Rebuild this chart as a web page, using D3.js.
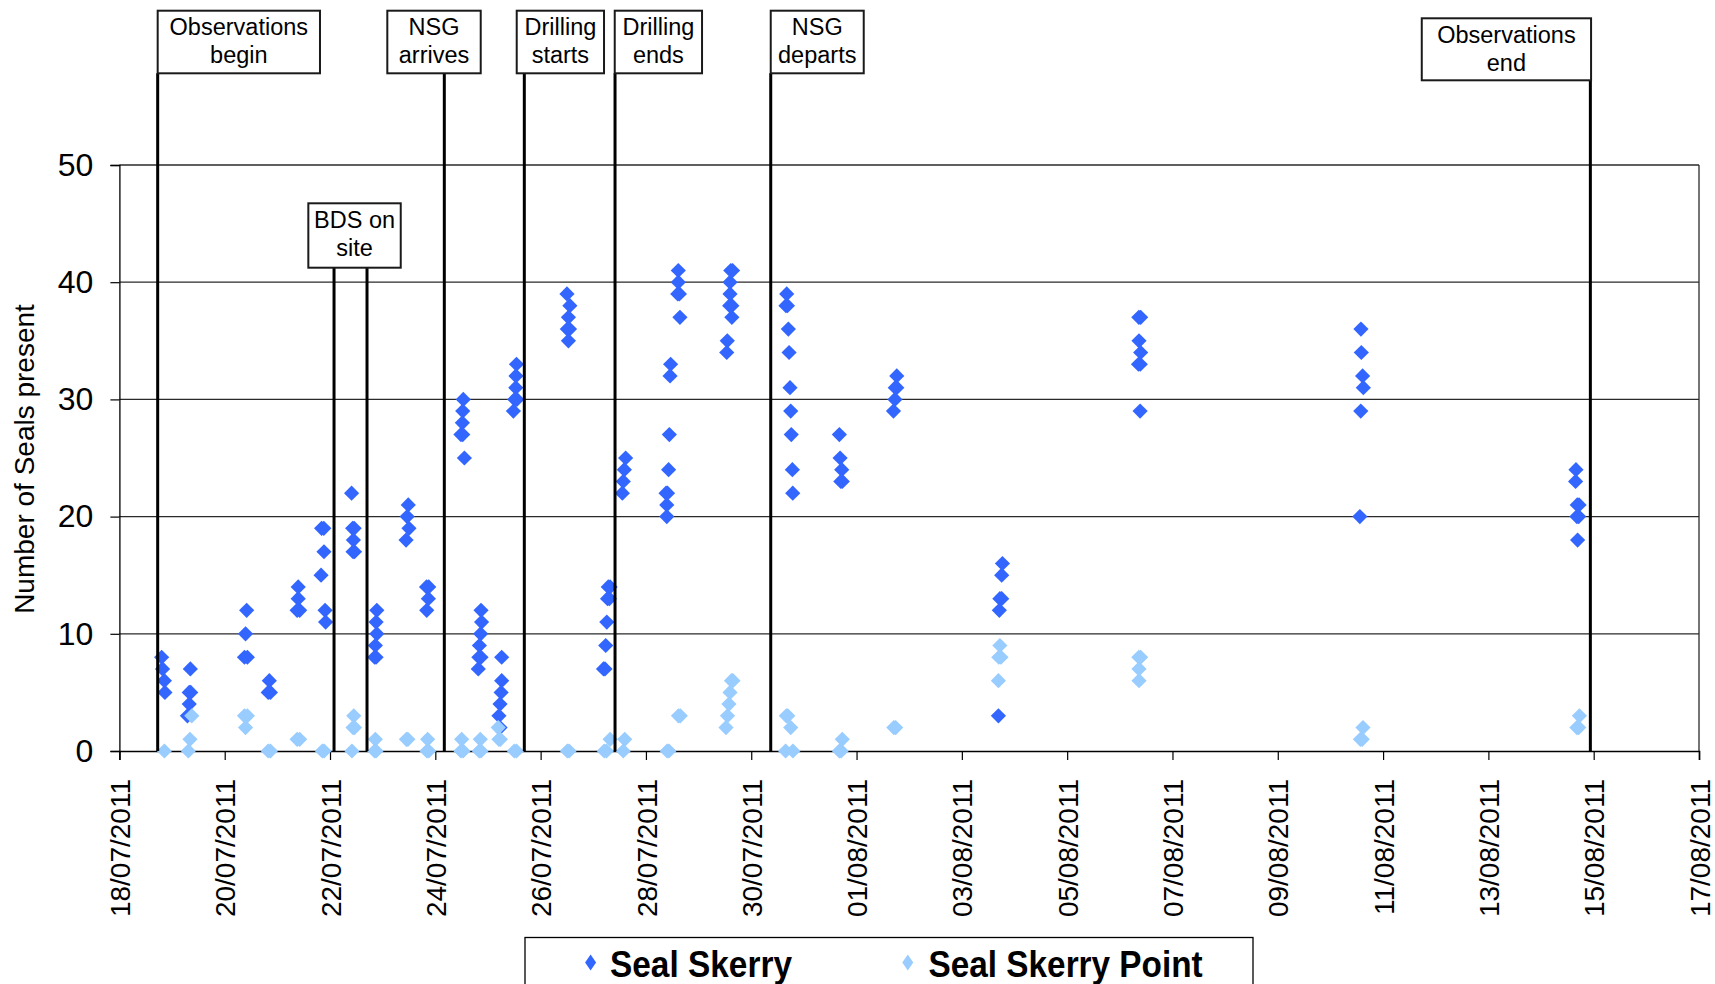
<!DOCTYPE html>
<html>
<head>
<meta charset="utf-8">
<script src="https://cdn.jsdelivr.net/npm/d3@7"></script>
<style>
  html, body { margin: 0; padding: 0; background: #fff; }
  svg { display: block; font-family: "Liberation Sans", Arial, sans-serif; }
</style>
</head>
<body>
<svg id="chart" width="1715" height="984"></svg>
<script>
// ---------------- DATA ----------------
const seriesNames = ["Seal Skerry", "Seal Skerry Point"];

const sealSkerry = [
  ["2011-07-18 19:15",8],["2011-07-18 19:40",7],["2011-07-18 20:30",6],["2011-07-18 20:45",5],
  ["2011-07-19 08:20",7],["2011-07-19 07:50",5],["2011-07-19 08:30",5],["2011-07-19 07:50",4],["2011-07-19 07:00",3],
  ["2011-07-20 10:00",12],["2011-07-20 09:30",10],["2011-07-20 09:00",8],["2011-07-20 10:20",8],
  ["2011-07-20 20:20",6],["2011-07-20 19:50",5],["2011-07-20 20:50",5],
  ["2011-07-21 09:30",14],["2011-07-21 09:30",13],["2011-07-21 09:00",12],["2011-07-21 10:10",12],
  ["2011-07-21 20:10",19],["2011-07-21 21:10",19],["2011-07-21 21:15",17],["2011-07-21 19:55",15],["2011-07-21 21:45",12],["2011-07-21 22:00",11],
  ["2011-07-22 09:50",22],["2011-07-22 10:20",19],["2011-07-22 11:00",19],["2011-07-22 10:40",18],["2011-07-22 10:30",17],["2011-07-22 11:10",17],
  ["2011-07-22 21:20",12],["2011-07-22 21:00",11],["2011-07-22 21:20",10],["2011-07-22 20:40",9],["2011-07-22 20:20",8],["2011-07-22 21:00",8],
  ["2011-07-23 11:40",21],["2011-07-23 11:10",20],["2011-07-23 12:00",19],["2011-07-23 10:40",18],
  ["2011-07-23 20:00",14],["2011-07-23 21:00",14],["2011-07-23 20:50",13],["2011-07-23 20:05",12],
  ["2011-07-24 12:45",30],["2011-07-24 12:30",29],["2011-07-24 12:20",28],["2011-07-24 11:40",27],["2011-07-24 12:30",27],["2011-07-24 13:15",25],
  ["2011-07-24 20:50",12],["2011-07-24 21:05",11],["2011-07-24 20:40",10],["2011-07-24 20:05",9],["2011-07-24 19:50",8],["2011-07-24 20:50",8],["2011-07-24 19:35",7],
  ["2011-07-25 06:15",8],["2011-07-25 06:15",6],["2011-07-25 06:00",5],["2011-07-25 05:30",4],["2011-07-25 05:00",3],["2011-07-25 05:30",2],
  ["2011-07-25 13:00",33],["2011-07-25 12:45",32],["2011-07-25 12:40",31],["2011-07-25 12:10",30],["2011-07-25 13:10",30],["2011-07-25 11:35",29],
  ["2011-07-26 12:00",39],["2011-07-26 13:20",38],["2011-07-26 12:40",37],["2011-07-26 12:10",36],["2011-07-26 13:10",36],["2011-07-26 12:40",35],
  ["2011-07-27 06:50",14],["2011-07-27 07:40",14],["2011-07-27 06:30",13],["2011-07-27 07:20",13],["2011-07-27 06:10",11],["2011-07-27 05:40",9],["2011-07-27 04:40",7],["2011-07-27 05:20",7],
  ["2011-07-27 14:45",25],["2011-07-27 14:10",24],["2011-07-27 13:40",23],["2011-07-27 13:15",22],
  ["2011-07-28 10:40",27],["2011-07-28 10:20",24],["2011-07-28 09:10",22],["2011-07-28 09:50",22],["2011-07-28 09:30",21],["2011-07-28 09:30",20],
  ["2011-07-28 11:15",33],["2011-07-28 11:00",32],
  ["2011-07-28 14:45",41],["2011-07-28 14:45",40],["2011-07-28 14:30",39],["2011-07-28 15:15",39],["2011-07-28 15:30",37],
  ["2011-07-29 14:40",41],["2011-07-29 15:30",41],["2011-07-29 14:20",40],["2011-07-29 14:20",39],["2011-07-29 14:10",38],["2011-07-29 15:10",38],["2011-07-29 15:10",37],["2011-07-29 13:05",35],["2011-07-29 12:50",34],
  ["2011-07-30 16:10",39],["2011-07-30 15:50",38],["2011-07-30 16:30",38],["2011-07-30 16:55",36],["2011-07-30 17:15",34],["2011-07-30 17:40",31],["2011-07-30 18:00",29],["2011-07-30 18:15",27],["2011-07-30 18:45",24],["2011-07-30 18:55",22],
  ["2011-07-31 16:10",27],["2011-07-31 16:30",25],["2011-07-31 17:15",24],["2011-07-31 16:50",23],["2011-07-31 17:30",23],
  ["2011-08-01 18:20",32],["2011-08-01 17:40",31],["2011-08-01 18:20",31],["2011-08-01 17:30",30],["2011-08-01 16:50",29],
  ["2011-08-03 18:30",16],["2011-08-03 18:10",15],["2011-08-03 17:20",13],["2011-08-03 18:10",13],["2011-08-03 17:05",12],["2011-08-03 16:40",3],
  ["2011-08-06 08:40",37],["2011-08-06 09:30",37],["2011-08-06 08:45",35],["2011-08-06 09:30",34],["2011-08-06 08:30",33],["2011-08-06 09:20",33],["2011-08-06 09:15",29],
  ["2011-08-10 13:55",36],["2011-08-10 14:05",34],["2011-08-10 14:40",32],["2011-08-10 15:00",31],["2011-08-10 13:50",29],["2011-08-10 13:25",20],
  ["2011-08-14 15:55",24],["2011-08-14 15:45",23],["2011-08-14 16:30",21],["2011-08-14 17:20",21],["2011-08-14 16:20",20],["2011-08-14 17:10",20],["2011-08-14 16:40",18]
];

const sealSkerryPoint = [
  ["2011-07-18 20:30",0],
  ["2011-07-19 09:00",3],["2011-07-19 08:10",1],["2011-07-19 07:25",0],
  ["2011-07-20 09:00",3],["2011-07-20 10:20",3],["2011-07-20 09:30",2],
  ["2011-07-20 19:50",0],["2011-07-20 20:50",0],
  ["2011-07-21 09:00",1],["2011-07-21 10:10",1],
  ["2011-07-21 20:30",0],["2011-07-21 21:20",0],
  ["2011-07-22 10:50",3],["2011-07-22 10:30",2],["2011-07-22 11:10",2],["2011-07-22 10:00",0],
  ["2011-07-22 20:40",1],["2011-07-22 20:20",0],["2011-07-22 21:00",0],
  ["2011-07-23 10:50",1],["2011-07-23 11:30",1],
  ["2011-07-23 20:30",1],["2011-07-23 20:10",0],["2011-07-23 21:00",0],
  ["2011-07-24 12:00",1],["2011-07-24 11:40",0],["2011-07-24 12:40",0],
  ["2011-07-24 20:30",1],["2011-07-24 20:00",0],["2011-07-24 20:50",0],
  ["2011-07-25 04:40",2],["2011-07-25 05:00",1],["2011-07-25 05:40",1],
  ["2011-07-25 12:00",0],["2011-07-25 13:00",0],
  ["2011-07-26 12:10",0],["2011-07-26 13:00",0],
  ["2011-07-27 07:40",1],["2011-07-27 05:00",0],["2011-07-27 06:00",0],
  ["2011-07-27 14:20",1],["2011-07-27 13:40",0],
  ["2011-07-28 09:40",0],["2011-07-28 10:30",0],["2011-07-28 14:50",3],["2011-07-28 15:40",3],
  ["2011-07-29 15:00",6],["2011-07-29 15:40",6],["2011-07-29 14:20",5],["2011-07-29 13:50",4],["2011-07-29 13:10",3],["2011-07-29 12:30",2],
  ["2011-07-30 16:00",3],["2011-07-30 16:40",3],["2011-07-30 18:00",2],["2011-07-30 15:40",0],["2011-07-30 19:00",0],
  ["2011-07-31 17:30",1],["2011-07-31 16:10",0],["2011-07-31 17:00",0],
  ["2011-08-01 17:00",2],["2011-08-01 17:50",2],
  ["2011-08-03 17:20",9],["2011-08-03 16:50",8],["2011-08-03 17:50",8],["2011-08-03 16:40",6],
  ["2011-08-06 08:40",8],["2011-08-06 09:30",8],["2011-08-06 08:45",7],["2011-08-06 08:45",6],
  ["2011-08-10 14:50",2],["2011-08-10 13:40",1],["2011-08-10 14:30",1],
  ["2011-08-14 17:30",3],["2011-08-14 16:20",2],["2011-08-14 17:10",2]
];

const xTickLabels = ["18/07/2011","20/07/2011","22/07/2011","24/07/2011","26/07/2011","28/07/2011",
  "30/07/2011","01/08/2011","03/08/2011","05/08/2011","07/08/2011","09/08/2011","11/08/2011",
  "13/08/2011","15/08/2011","17/08/2011"];
const yTicks = [0, 10, 20, 30, 40, 50];
const yTitle = "Number of Seals present";

const eventLabels = [["Observations","begin"],["BDS on","site"],["NSG","arrives"],["Drilling","starts"],
  ["Drilling","ends"],["NSG","departs"],["Observations","end"]];
const eventDates = [["2011-07-18 17:27"],["2011-07-22 01:50","2011-07-22 16:52"],["2011-07-24 04:06"],
  ["2011-07-25 16:34"],["2011-07-27 09:55"],["2011-07-30 08:53"],["2011-08-14 22:29"]];

// ---------------- LAYOUT ----------------
const W = 1715, H = 984;
const plot = {left: 119.4, right: 1699, top: 165, bottom: 751};
// label box layout relative to first event line: [dx, width, top, height]
const boxLayout = [[0,162.3,10.7,62.6],[-25.7,92.4,203.3,64.4],[-57,93.4,10.7,62.6],[-7.6,87.3,10.7,62.6],
  [-0.3,87.3,10.7,62.6],[0,93,10.7,62.6],[-168.6,169.3,18.3,62]];
const colors = {skerry: "#3366FF", point: "#99CCFF"};

const parseT = d3.timeParse("%Y-%m-%d %H:%M");
const parseTick = d3.timeParse("%d/%m/%Y");
const tickDates = xTickLabels.map(parseTick);

const x = d3.scaleTime()
  .domain([tickDates[0], tickDates[tickDates.length - 1]])
  .range([plot.left, plot.right]);
const y = d3.scaleLinear().domain([0, 50]).range([plot.bottom, plot.top]);

const svg = d3.select("#chart");
svg.append("rect").attr("width", W).attr("height", H).attr("fill", "#fff");

// gridlines
svg.append("g").selectAll("line").data(yTicks.filter(v => v > 0)).join("line")
  .attr("x1", plot.left).attr("x2", plot.right)
  .attr("y1", d => y(d)).attr("y2", d => y(d))
  .attr("stroke", "#2a2a2a").attr("stroke-width", 1.3);
// plot frame right
svg.append("line").attr("x1", plot.right).attr("x2", plot.right)
  .attr("y1", plot.top).attr("y2", plot.bottom).attr("stroke", "#2a2a2a").attr("stroke-width", 1.3);

// axes
const yAxis = svg.append("g").attr("transform", `translate(${plot.left},0)`)
  .call(d3.axisLeft(y).tickValues(yTicks).tickSize(9).tickPadding(17).tickFormat(d3.format("d")));
yAxis.select(".domain").attr("stroke", "#000").attr("stroke-width", 1.3);
yAxis.selectAll(".tick line").attr("stroke", "#000").attr("stroke-width", 1.2);
yAxis.selectAll("text").attr("font-size", 32).attr("fill", "#000")
  .attr("font-family", '"Liberation Sans", Arial, sans-serif');

const fmt = d3.timeFormat("%d/%m/%Y");
const xAxis = svg.append("g").attr("transform", `translate(0,${plot.bottom})`)
  .call(d3.axisBottom(x).tickValues(tickDates).tickSize(9).tickFormat(fmt));
xAxis.select(".domain").attr("stroke", "#000").attr("stroke-width", 1.6);
xAxis.selectAll(".tick line").attr("stroke", "#000").attr("stroke-width", 1.2);
xAxis.selectAll("text")
  .attr("font-size", 28).attr("fill", "#000")
  .attr("font-family", '"Liberation Sans", Arial, sans-serif')
  .attr("transform", "rotate(-90)")
  .attr("text-anchor", "end")
  .attr("x", -28).attr("y", 0).attr("dy", "0.36em");

// y title
svg.append("text")
  .attr("transform", `translate(34,${(plot.top + plot.bottom) / 2 + 1}) rotate(-90)`)
  .attr("text-anchor", "middle").attr("font-size", 28).attr("fill", "#000")
  .text(yTitle);

// markers
const diamond = r => `M0,${-r}L${r},0L0,${r}L${-r},0Z`;
svg.append("g").selectAll("path").data(sealSkerry).join("path")
  .attr("d", diamond(7.6))
  .attr("transform", d => `translate(${x(parseT(d[0]))},${y(d[1])})`)
  .attr("fill", colors.skerry);
svg.append("g").selectAll("path").data(sealSkerryPoint).join("path")
  .attr("d", diamond(7.6))
  .attr("transform", d => `translate(${x(parseT(d[0]))},${y(d[1])})`)
  .attr("fill", colors.point);

// events
const evG = svg.append("g");
eventLabels.forEach((lab, i) => {
  const xs = eventDates[i].map(s => x(parseT(s)));
  const [dx, bw, bt, bh] = boxLayout[i];
  const bx = xs[0] + dx;
  xs.forEach(xx => {
    evG.append("line").attr("x1", xx).attr("x2", xx).attr("y1", bt + bh).attr("y2", plot.bottom)
      .attr("stroke", "#000").attr("stroke-width", 3);
  });
  evG.append("rect").attr("x", bx).attr("y", bt).attr("width", bw).attr("height", bh)
    .attr("fill", "#fff").attr("stroke", "#1a1a1a").attr("stroke-width", 2);
  lab.forEach((t, j) => {
    evG.append("text").attr("x", bx + bw / 2).attr("y", bt + 24.3 + j * 28)
      .attr("text-anchor", "middle").attr("font-size", 23.5).attr("fill", "#000").text(t);
  });
});

// legend
const lg = svg.append("g");
lg.append("rect").attr("x", 525).attr("y", 937.5).attr("width", 728).attr("height", 70)
  .attr("fill", "#fff").attr("stroke", "#000").attr("stroke-width", 1.3);
const legItems = [
  {name: seriesNames[0], color: colors.skerry, mx: 590.6, tx: 610, tw: 182},
  {name: seriesNames[1], color: colors.point, mx: 907.8, tx: 928.6, tw: 274}
];
legItems.forEach(it => {
  lg.append("path").attr("d", "M0,-8L5.5,0L0,8L-5.5,0Z")
    .attr("transform", `translate(${it.mx},962.5)`).attr("fill", it.color);
  lg.append("text").attr("x", it.tx).attr("y", 976.5)
    .attr("font-size", 37).attr("font-weight", "bold").attr("fill", "#000")
    .attr("textLength", it.tw).attr("lengthAdjust", "spacingAndGlyphs")
    .text(it.name);
});
</script>
</body>
</html>
